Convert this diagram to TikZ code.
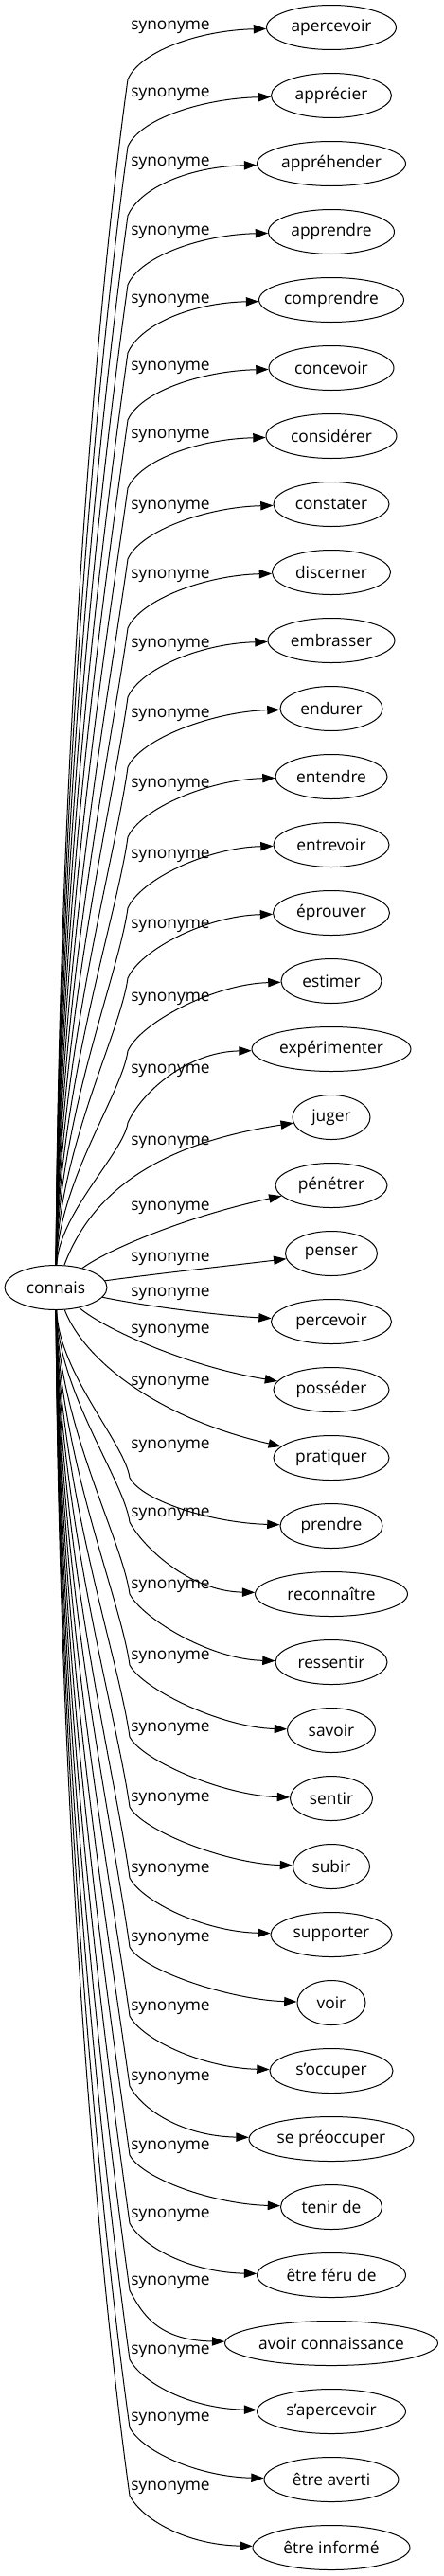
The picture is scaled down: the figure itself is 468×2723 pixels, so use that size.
\documentclass[tikz,border=0pt]{standalone}
\usepackage{fontspec}
\setmainfont{Open Sans}
\usetikzlibrary{arrows.meta,shapes.geometric,calc}

\begin{document}
\begin{tikzpicture}[
	x=0.75pt, y=-0.75pt,
	word/.style = {draw, ellipse, inner sep=0pt, line width=0.75pt, minimum height=35.25pt, font=\fontsize{13}{15}\selectfont},
	root/.style = {word, minimum width=81pt},
	syn/.style  = {word},
	rel/.style  = {inner sep=0pt, anchor=west, font=\fontsize{13}{15}\selectfont},
	link/.style = {-{Triangle[length=10pt,width=7pt]}, line width=0.75pt},
	]
	
	\useasboundingbox (0,0) rectangle (468,2723);
	
	% the word on the left
	\node[root] (connais) at (59,1361) {connais};
	
	% the synonyms, one column on the right
	\foreach \txt/\w [count=\i] in {apercevoir/137, apprécier/127, appréhender/157, apprendre/133,
		comprendre/153, concevoir/132, considérer/138, constater/122, discerner/125, embrasser/134,
		endurer/108, entendre/118, entrevoir/122, éprouver/123, estimer/106, expérimenter/168,
		juger/82, pénétrer/118, penser/97, percevoir/127, posséder/122, pratiquer/122, prendre/108,
		reconnaître/161, ressentir/118, savoir/93, sentir/87, subir/81, supporter/128, voir/72,
		s\symbol{39}occuper/130, se préoccuper/174, tenir de/107, être féru de/157, avoir connaissance/225,
		s\symbol{39}apercevoir/157, être averti/142, être informé/166}
	\node[syn, minimum width=\w*0.75pt] (s\i) at (350,{29+72*(\i-1)}) {\txt};
	
	% edge labels
	\foreach \ly [count=\i] in {29,100,173,246,318,389,461,536,609,682,756,830,905,979,1056,1132,
		1208,1277,1331,1368,1407,1462,1529,1601,1677,1752,1828,1902,1977,2050,2123,2197,2270,2342,
		2413,2486,2557,2630}
	\node[rel] (l\i) at (138,\ly) {synonyme};
	
	% edges going up
	\foreach \i/\ly in {1/29,2/100,3/173,4/246,5/318,6/389,7/461,8/536,9/609,10/682,11/756,
		12/830,13/905,14/979,15/1056,16/1132}{
		\pgfmathsetmacro\by{\ly+55}
		\pgfmathsetmacro\d{1361-\by}
		\draw[link] (connais) .. controls (62,{1361-0.45*\d}) and ({135-0.025*\d},{\by+0.18*\d}) .. (135,\by)
			.. controls (148,{\by-30}) and ($(s\i.west)+(-70,3)$) .. (s\i);
	}
	
	% edges near the middle
	\draw[link] (connais) .. controls (95,1265) and (160,1210) .. (s17);
	\draw[link] (connais) .. controls (115,1320) and (200,1285) .. (s18);
	\draw[link] (connais) .. controls (160,1347) and (250,1337) .. (s19);
	\draw[link] (connais) .. controls (160,1382) and (240,1391) .. (s20);
	\draw[link] (connais) .. controls (110,1405) and (200,1445) .. (s21);
	\draw[link] (connais) .. controls (90,1440) and (170,1500) .. (s22);
	
	% edges going down
	\foreach \i/\by in {23/1562,24/1609,25/1685,26/1760,27/1836,28/1910,29/1985,30/2058,31/2131,
		32/2205,33/2278,34/2350,35/2421,36/2494,37/2566,38/2638}{
		\pgfmathsetmacro\d{\by-1361}
		\draw[link] (connais) .. controls (62,{1361+0.45*\d}) and ({137-0.025*\d},{\by-0.18*\d}) .. (137,\by)
			.. controls (150,{\by+25}) and ($(s\i.west)+(-70,-3)$) .. (s\i);
	}
	
\end{tikzpicture}
\end{document}
